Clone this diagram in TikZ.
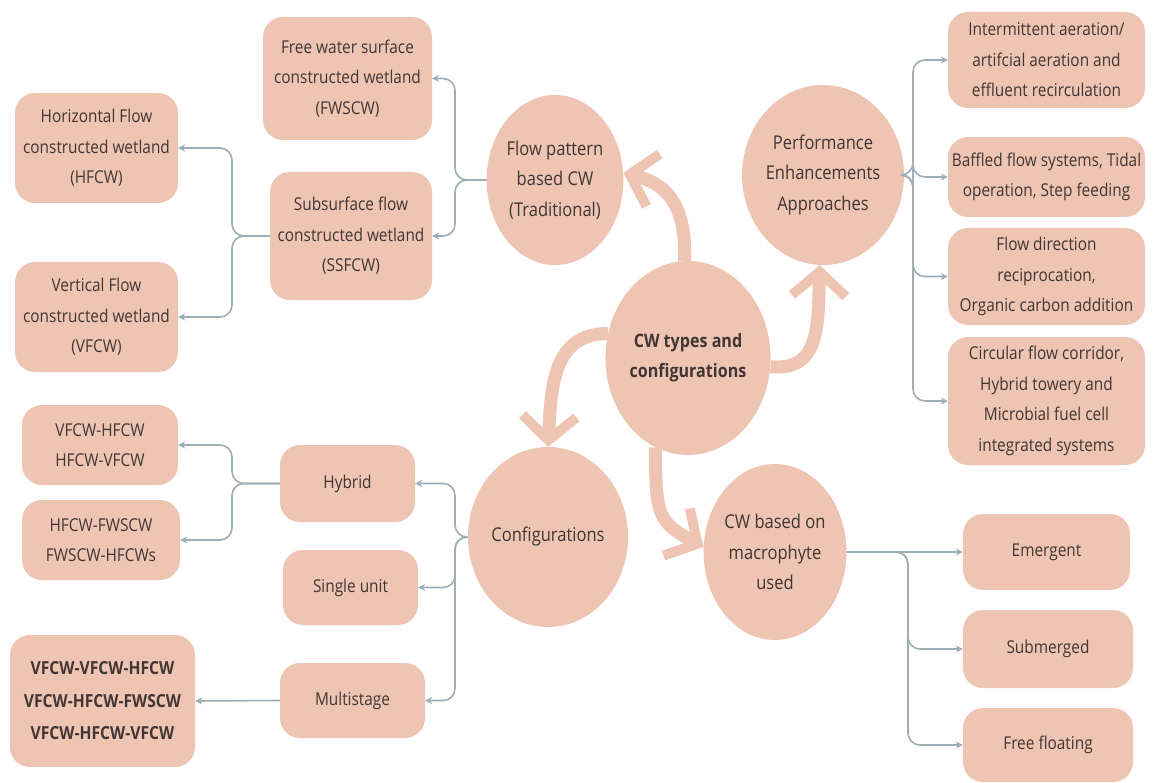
\documentclass[tikz,border=0pt]{standalone}
\usepackage{fontspec}
\setmainfont{Open Sans}[FakeStretch=0.87]
\usetikzlibrary{shapes.geometric,arrows.meta}
\definecolor{salmon}{RGB}{238,196,178}
\definecolor{ink}{RGB}{66,54,52}
\definecolor{wire}{RGB}{158,174,180}
\begin{document}
\begin{tikzpicture}[x=1pt,y=-1pt,
  box/.style={fill=salmon, rounded corners=20pt, align=center, text=ink,
    font=\fontsize{17.7}{30.5}\selectfont, inner sep=0pt},
  boldbox/.style={box, font=\fontsize{18}{32.5}\selectfont\bfseries},
  oval/.style={ellipse, fill=salmon, align=center, text=ink,
    font=\fontsize{19}{30.5}\selectfont, inner sep=0pt},
  conn/.style={draw=wire, line width=1.6pt, rounded corners=12pt,
    -{Stealth[length=7pt,width=7pt]}},
  bigarrow/.style={draw=salmon, line width=13pt,
    -{Straight Barb[length=24pt,width=54pt,line width=10pt 0]}}]
\useasboundingbox (0,0) rectangle (1155,783);

% ---- central ellipse and the four categories ----
\node[oval, minimum width=140pt, minimum height=194pt, font=\fontsize{18.5}{30}\selectfont\bfseries] (cw) at (688,358) {CW types and\\configurations};
\node[oval, minimum width=136pt, minimum height=170pt] (fp) at (555,180) {Flow pattern\\based CW\\(Traditional)};
\node[oval, minimum width=134pt, minimum height=180pt] (perf) at (823,175) {Performance\\Enhancements\\Approaches};
\node[oval, minimum width=130pt, minimum height=180pt] (conf) at (548,537) {Configurations};
\node[oval, minimum width=126pt, minimum height=176pt] (mac) at (775,552) {CW based on\\macrophyte\\used};

% ---- big curved arrows from the centre ----
\draw[bigarrow] (cw.92) .. controls +(2,-60) and +(40,10) .. (fp.6);
\draw[bigarrow] (cw.-6) .. controls +(50,5) and +(-2,60) .. (perf.-92);
\draw[bigarrow] (cw.163) .. controls +(-55,0) and +(3,-60) .. (conf.90);
\draw[bigarrow] (cw.-110) .. controls +(0,70) and +(-45,-25) .. (mac.176);

% ---- flow pattern branch ----
\node[box, minimum width=169pt, minimum height=123pt] (fws) at (347.5,78.5) {Free water surface\\constructed wetland\\(FWSCW)};
\node[box, minimum width=162pt, minimum height=128pt] (ssf) at (351,236) {Subsurface flow\\constructed wetland\\(SSFCW)};
\node[box, minimum width=163pt, minimum height=110pt] (hf) at (96.5,148) {Horizontal Flow\\constructed wetland\\(HFCW)};
\node[box, minimum width=163pt, minimum height=110pt] (vf) at (96.5,317) {Vertical Flow\\constructed wetland\\(VFCW)};

\coordinate (jfp) at (455,180);
\draw[conn] (fp.west) -- (jfp) |- (fws.east);
\draw[conn] (fp.west) -- (jfp) |- (ssf.east);
\coordinate (jssf) at (232,236);
\draw[conn] (ssf.west) -- (jssf) |- (hf.east);
\draw[conn] (ssf.west) -- (jssf) |- (vf.east);

% ---- performance enhancement branch ----
\node[box, minimum width=197pt, minimum height=96pt] (inter) at (1046.5,60) {Intermittent aeration/\\artifcial aeration and\\effluent recirculation};
\node[box, minimum width=197pt, minimum height=80pt] (baff) at (1046.5,177) {Baffled flow systems, Tidal\\operation, Step feeding};
\node[box, minimum width=197pt, minimum height=97pt] (fdir) at (1046.5,276.5) {Flow direction\\reciprocation,\\Organic carbon addition};
\node[box, minimum width=197pt, minimum height=128pt] (circ) at (1046.5,401) {Circular flow corridor,\\Hybrid towery and\\Microbial fuel cell\\integrated systems};

\coordinate (jperf) at (913,175);
\draw[conn] (perf.east) -- (jperf) |- (inter.west);
\draw[conn] (perf.east) -- (jperf) |- (baff.west);
\draw[conn] (perf.east) -- (jperf) |- (fdir.west);
\draw[conn] (perf.east) -- (jperf) |- (circ.west);

% ---- configurations branch ----
\node[box, minimum width=135pt, minimum height=77pt] (hyb) at (347.5,483.5) {Hybrid};
\node[box, minimum width=135pt, minimum height=75pt] (single) at (350.5,587.5) {Single unit};
\node[box, minimum width=145pt, minimum height=75pt] (multi) at (352.5,700.5) {Multistage};
\node[box, minimum width=156pt, minimum height=80pt] (vh) at (100,445) {VFCW-HFCW\\HFCW-VFCW};
\node[box, minimum width=158pt, minimum height=80pt] (hfws) at (101,540) {HFCW-FWSCW\\FWSCW-HFCWs};
\node[boldbox, minimum width=185pt, minimum height=132pt] (vvh) at (102.5,701) {VFCW-VFCW-HFCW\\VFCW-HFCW-FWSCW\\VFCW-HFCW-VFCW};

\coordinate (jconf) at (455,537);
\draw[conn] (conf.west) -- (jconf) |- (hyb.east);
\draw[conn] (conf.west) -- (jconf) |- (single.east);
\draw[conn] (conf.west) -- (jconf) |- (multi.east);
\coordinate (jhyb) at (232,483.5);
\draw[conn] (hyb.west) -- (jhyb) |- (vh.east);
\draw[conn] (hyb.west) -- (jhyb) |- (hfws.east);
\draw[conn] (multi.west) -- (vvh.east);

% ---- macrophyte branch ----
\node[box, minimum width=167pt, minimum height=76pt] (emer) at (1046.5,552) {Emergent};
\node[box, minimum width=170pt, minimum height=78pt] (sub) at (1048,649) {Submerged};
\node[box, minimum width=170pt, minimum height=74pt] (ff) at (1048,745) {Free floating};

\coordinate (jmac) at (908,552);
\draw[conn] (mac.east) -- (emer.west);
\draw[conn] (mac.east) -- (jmac) |- (sub.west);
\draw[conn] (mac.east) -- (jmac) |- (ff.west);
\end{tikzpicture}
\end{document}
